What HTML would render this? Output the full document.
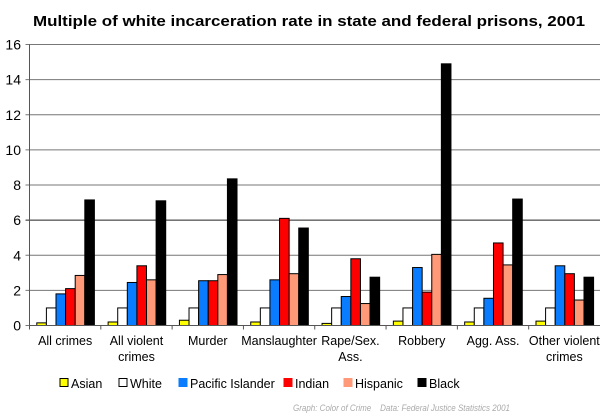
<!DOCTYPE html>
<html><head><meta charset="utf-8"><style>
html,body{margin:0;padding:0;background:#fff;}
svg{display:block;font-family:"Liberation Sans",sans-serif;}
</style></head><body>
<svg id="chart" width="616" height="417">
<text x="309" y="26" text-anchor="middle" font-size="15" font-weight="bold" textLength="552" lengthAdjust="spacingAndGlyphs">Multiple of white incarceration rate in state and federal prisons, 2001</text>
<g id="grid"></g><g id="bars"></g><g id="axes"></g><g id="legend"></g>
<text x="293" y="411" font-size="9" font-style="italic" fill="#aaa" textLength="217" lengthAdjust="spacingAndGlyphs" style="white-space:pre">Graph: Color of Crime    Data: Federal Justice Statistics 2001</text>
</svg>
<script>
const categories=[["All crimes"],["All violent","crimes"],["Murder"],["Manslaughter"],["Rape/Sex.","Ass."],["Robbery"],["Agg. Ass."],["Other violent","crimes"]];
const seriesNames=["Asian","White","Pacific Islander","Indian","Hispanic","Black"];
const seriesColors=["#ffff00","#ffffff","#0a7cff","#ff0000","#ff9977","#000000"];
const asian=[0.15,0.2,0.3,0.2,0.12,0.25,0.2,0.25];
const white=[1,1,1,1,1,1,1,1];
const pacific=[1.8,2.45,2.55,2.6,1.65,3.3,1.55,3.4];
const indian=[2.1,3.4,2.55,6.1,3.8,1.9,4.7,2.95];
const hispanic=[2.85,2.6,2.9,2.95,1.25,4.05,3.45,1.45];
const black=[7.15,7.1,8.35,5.55,2.75,14.9,7.2,2.75];
const yTicks=[0,2,4,6,8,10,12,14,16];
const series=[asian,white,pacific,indian,hispanic,black];
const NS="http://www.w3.org/2000/svg";
const X0=29.5,X1=600,Y0=325.5,Y1=44.5,YMAX=16;
const gw=(X1-X0)/categories.length;
function y(v){return Y0-(v/YMAX)*(Y0-Y1);}
function mk(t,a,p){const e=document.createElementNS(NS,t);for(const k in a)e.setAttribute(k,a[k]);p.appendChild(e);return e;}
const grid=document.getElementById('grid'),bars=document.getElementById('bars'),axes=document.getElementById('axes'),legend=document.getElementById('legend');
yTicks.forEach(t=>{
  const l=mk('line',{x1:X0-4,x2:X1,y1:y(t),y2:y(t),stroke:t===6?'#222':'#777','stroke-width':1},grid);
  
  
  const tx=mk('text',{x:21,y:y(t)+5,'text-anchor':'end','font-size':14},axes);
  tx.textContent=t;
  
  
});
const bw=9.6,off=7.3;
categories.forEach((c,i)=>{
  const gx=X0+i*gw;
  series.forEach((s,j)=>{
    const v=s[i];
    const r=mk('rect',{x:gx+off+j*bw,y:y(v),width:bw,height:Y0-y(v),fill:seriesColors[j],stroke:'#000','stroke-width':1},bars);
    
    
  });
  const tk=mk('line',{x1:gx,x2:gx,y1:Y0,y2:Y0+4,stroke:'#555'},axes);
  
  
  c.forEach((ln,k)=>{
    const tx=mk('text',{x:gx+gw/2,y:345+k*16,'text-anchor':'middle','font-size':12.5},axes);
    tx.textContent=ln;
    
    
  });
});
const ax=mk('line',{x1:X0,x2:X0,y1:Y1,y2:Y0,stroke:'#555'},axes);


const bx=mk('line',{x1:X0,x2:X1,y1:Y0,y2:Y0,stroke:'#555'},axes);


const lx=[60,119,179,284,344,418];
seriesNames.forEach((n,j)=>{
  const g=mk('g',{},legend);
  
  
  mk('rect',{x:lx[j],y:378.5,width:8,height:8,fill:seriesColors[j],stroke:(j<2?'#000':seriesColors[j])},g);
  const t=mk('text',{x:lx[j]+11,y:388,'font-size':12.5},g);
  t.textContent=n;
});
</script>
</body></html>
